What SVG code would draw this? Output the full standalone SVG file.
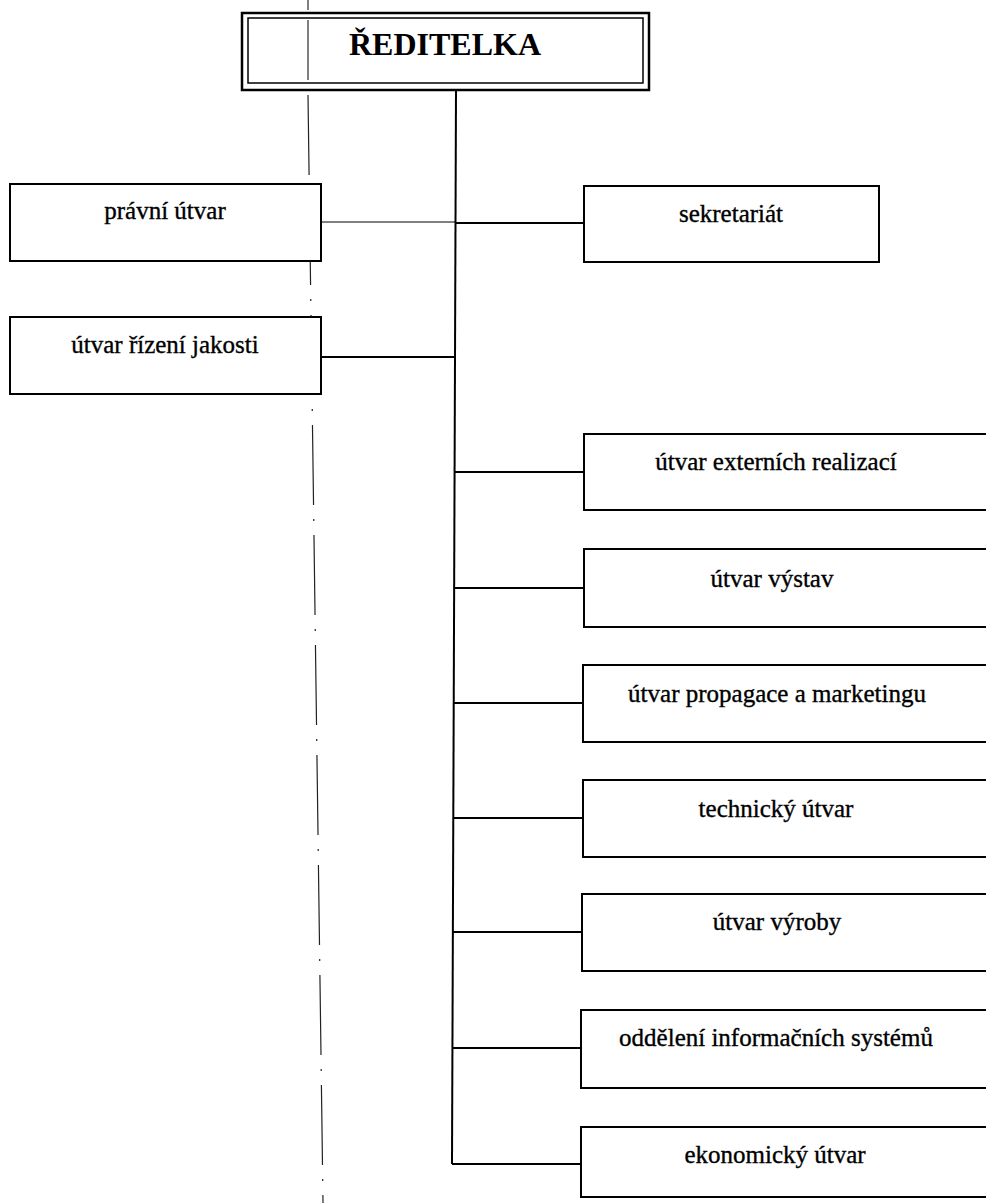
<svg xmlns="http://www.w3.org/2000/svg" width="986" height="1203" viewBox="0 0 986 1203">
  <style>
    .box { fill: #ffffff; stroke: #000000; stroke-width: 2; }
    .lbl { font-family: "Liberation Serif", "Times New Roman", serif; font-size: 25px; fill: #000000; stroke: #000000; stroke-width: 0.35; text-anchor: middle; }
    .title { font-family: "Liberation Serif", "Times New Roman", serif; font-size: 32px; font-weight: bold; fill: #000000; text-anchor: middle; }
    .conn { stroke: #000000; stroke-width: 2; fill: none; }
    .thin { stroke: #000000; stroke-width: 1; fill: none; }
    .fold { stroke: #222222; stroke-width: 1.2; fill: none; stroke-dasharray: 80 14 2 14; }
  </style>
  <rect x="0" y="0" width="986" height="1203" fill="#ffffff"/>

  <g id="connectors">
    <line class="fold" x1="308" y1="95" x2="323" y2="1203"/>
    <line class="thin" x1="308" y1="0" x2="308" y2="10"/>
    <path class="conn" d="M456,90 L452,1164"/>
    <line class="thin" x1="321" y1="222" x2="456" y2="222"/>
    <line class="conn" x1="456" y1="223" x2="584" y2="223"/>
    <line class="conn" x1="321" y1="357" x2="456" y2="357"/>
    <line class="conn" x1="455" y1="472" x2="584" y2="472"/>
    <line class="conn" x1="454" y1="588" x2="584" y2="588"/>
    <line class="conn" x1="454" y1="703" x2="583" y2="703"/>
    <line class="conn" x1="453" y1="818" x2="583" y2="818"/>
    <line class="conn" x1="453" y1="932" x2="582" y2="932"/>
    <line class="conn" x1="453" y1="1048" x2="581" y2="1048"/>
    <line class="conn" x1="452" y1="1164" x2="581" y2="1164"/>
  </g>

  <g id="reditelka">
    <rect x="242" y="13" width="407" height="77" fill="#ffffff" stroke="#000" stroke-width="2.5"/>
    <rect x="248" y="18" width="395" height="65" fill="none" stroke="#000" stroke-width="1.5"/>
    <line class="thin" x1="308" y1="20" x2="308" y2="80"/>
    <text class="title" x="445" y="55">ŘEDITELKA</text>
  </g>

  <g id="pravni-utvar">
    <rect class="box" x="10" y="184" width="311" height="77"/>
    <text class="lbl" x="165" y="219">právní útvar</text>
  </g>

  <g id="utvar-rizeni-jakosti">
    <rect class="box" x="10" y="317" width="311" height="77"/>
    <text class="lbl" x="165" y="353">útvar řízení jakosti</text>
  </g>

  <g id="sekretariat">
    <rect class="box" x="584" y="186" width="295" height="76"/>
    <text class="lbl" x="731" y="222">sekretariát</text>
  </g>

  <g id="utvar-externich-realizaci">
    <rect class="box" x="584" y="434" width="410" height="76"/>
    <text class="lbl" x="776" y="470">útvar externích realizací</text>
  </g>

  <g id="utvar-vystav">
    <rect class="box" x="584" y="549" width="410" height="78"/>
    <text class="lbl" x="772" y="587">útvar výstav</text>
  </g>

  <g id="utvar-propagace">
    <rect class="box" x="583" y="665" width="411" height="77"/>
    <text class="lbl" x="777" y="702">útvar propagace a marketingu</text>
  </g>

  <g id="technicky-utvar">
    <rect class="box" x="583" y="780" width="411" height="77"/>
    <text class="lbl" x="776" y="817">technický útvar</text>
  </g>

  <g id="utvar-vyroby">
    <rect class="box" x="582" y="894" width="412" height="77"/>
    <text class="lbl" x="777" y="930">útvar výroby</text>
  </g>

  <g id="oddeleni-is">
    <rect class="box" x="581" y="1010" width="413" height="78"/>
    <text class="lbl" x="776" y="1046">oddělení informačních systémů</text>
  </g>

  <g id="ekonomicky-utvar">
    <rect class="box" x="581" y="1127" width="413" height="70"/>
    <text class="lbl" x="775" y="1163">ekonomický útvar</text>
  </g>
</svg>
